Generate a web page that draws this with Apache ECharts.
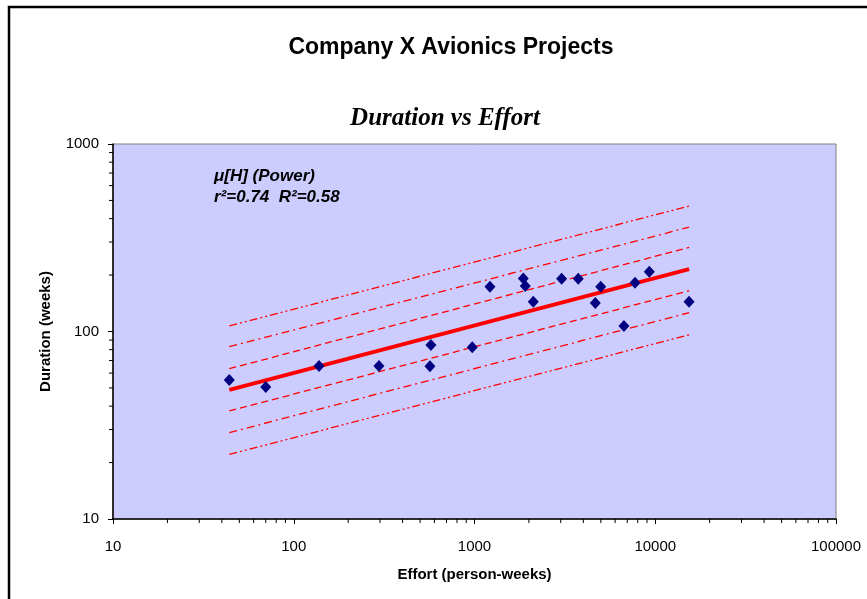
<!DOCTYPE html>
<html>
<head>
<meta charset="utf-8">
<script src="https://cdn.jsdelivr.net/npm/echarts@6/dist/echarts.min.js"></script>
<style>
  html, body { margin: 0; padding: 0; background: #fff; }
  #chart { width: 867px; height: 599px; }
</style>
</head>
<body>
<div id="chart"></div>
<script>
// project data
var effort   = [44, 70, 138, 296, 574, 567, 972, 1218, 1862, 1910, 2114, 3033, 3750, 4990, 4660, 6710, 7730, 9270, 15380];
var duration = [55.1, 50.6, 65.5, 65.5, 84.7, 65.3, 82.4, 173, 192, 175, 144, 191, 191, 173, 142, 107, 182, 208, 144];

// fitted power curve and the bands around it (end points)
var lineX  = [44, 15400];
var fit    = [48.8, 215];
var upper1 = [63.3, 281];
var upper2 = [83, 360];
var upper3 = [107, 467];
var lower1 = [37.7, 165];
var lower2 = [28.9, 126];
var lower3 = [22.1, 96];

// minor tick values on the log axes
var xMinor = [20, 30, 40, 50, 60, 70, 80, 90, 200, 300, 400, 500, 600, 700, 800, 900,
              2000, 3000, 4000, 5000, 6000, 7000, 8000, 9000, 20000, 30000, 40000, 50000, 60000, 70000, 80000, 90000];
var yMinor = [20, 30, 40, 50, 60, 70, 80, 90, 200, 300, 400, 500, 600, 700, 800, 900];

function pairs(xs, ys) {
    return xs.map(function (x, i) { return [x, ys[i]] })
}

function band(name, ys, dash) {
    return {
        name: name,
        type: 'line',
        data: pairs(lineX, ys),
        symbol: 'none',
        silent: true,
        lineStyle: { color: '#FF0000', width: 1.3, type: dash }
    }
}

var font = 'Arial, "Liberation Sans", sans-serif';

chart = echarts.init(document.getElementById('chart'));
chart.setOption({
    animation: false,
    title: [
        {
            text: 'Company X Avionics Projects',
            left: 446, top: 31, textAlign: 'center',
            textStyle: { fontFamily: font, fontSize: 23, fontWeight: 'bold', color: '#000' }
        },
        {
            text: 'Duration vs Effort',
            left: 440, top: 101, textAlign: 'center',
            textStyle: { fontFamily: '"Liberation Serif", "Times New Roman", serif', fontSize: 25,
                         fontWeight: 'bold', fontStyle: 'italic', color: '#000' }
        }
    ],
    graphic: [
        {
            type: 'rect',
            shape: { x: 9, y: 7, width: 900, height: 700 },
            style: { fill: 'none', stroke: '#000', lineWidth: 2.5 },
            silent: true
        },
        {
            type: 'text', left: 214, top: 166, z: 10,
            style: {
                text: 'μ[H] (Power)\nr²=0.74  R²=0.58',
                font: 'italic bold 17px ' + font,
                lineHeight: 21,
                fill: '#000'
            }
        }
    ],
    grid: {
        left: 113, right: 31, top: 144, bottom: 80,
        show: true, backgroundColor: '#CCCCFF',
        borderColor: '#808080', borderWidth: 1
    },
    xAxis: {
        type: 'log', logBase: 10, min: 10, max: 100000,
        name: 'Effort (person-weeks)', nameLocation: 'middle', nameGap: 48,
        nameTextStyle: { fontFamily: font, fontSize: 15, fontWeight: 'bold', color: '#000' },
        axisLine: { lineStyle: { color: '#000', width: 1.5 } },
        axisTick: { inside: false, length: 5, lineStyle: { color: '#000' } },
        axisLabel: {
            margin: 20, fontFamily: font, fontSize: 15, color: '#000',
            formatter: function (v) { return String(Math.round(v)) }
        },
        splitLine: { show: false }
    },
    yAxis: {
        type: 'log', logBase: 10, min: 10, max: 1000,
        name: 'Duration (weeks)', nameLocation: 'middle', nameGap: 60,
        nameTextStyle: { fontFamily: font, fontSize: 15, fontWeight: 'bold', color: '#000' },
        axisLine: { lineStyle: { color: '#000', width: 1.5 } },
        axisTick: { inside: false, length: 5, lineStyle: { color: '#000' } },
        axisLabel: {
            margin: 14, fontFamily: font, fontSize: 15, color: '#000',
            formatter: function (v) { return String(Math.round(v)) }
        },
        splitLine: { show: false }
    },
    series: [
        band('upper3', upper3, [8, 3, 2, 3, 2, 3]),
        band('upper2', upper2, [8, 4, 2, 4]),
        band('upper1', upper1, [7, 4]),
        band('lower1', lower1, [7, 4]),
        band('lower2', lower2, [8, 4, 2, 4]),
        band('lower3', lower3, [8, 3, 2, 3, 2, 3]),
        {
            name: 'fit',
            type: 'line',
            data: pairs(lineX, fit),
            symbol: 'none',
            silent: true,
            lineStyle: { color: '#FF0000', width: 4 }
        },
        {
            name: 'projects',
            type: 'scatter',
            data: pairs(effort, duration),
            symbol: 'diamond',
            symbolSize: [11, 12],
            itemStyle: { color: '#000080', opacity: 1 },
            z: 5
        },
        {
            name: 'xminor',
            type: 'custom',
            clip: false, silent: true,
            data: xMinor.map(function (v) { return [v, 10] }),
            renderItem: function (params, api) {
                var p = api.coord([api.value(0), api.value(1)]);
                return { type: 'line', shape: { x1: p[0], y1: p[1], x2: p[0], y2: p[1] + 4 },
                         style: { stroke: '#000', lineWidth: 1 } };
            }
        },
        {
            name: 'yminor',
            type: 'custom',
            clip: false, silent: true,
            data: yMinor.map(function (v) { return [10, v] }),
            renderItem: function (params, api) {
                var p = api.coord([api.value(0), api.value(1)]);
                return { type: 'line', shape: { x1: p[0], y1: p[1], x2: p[0] - 4, y2: p[1] },
                         style: { stroke: '#000', lineWidth: 1 } };
            }
        }
    ]
});
</script>
</body>
</html>
